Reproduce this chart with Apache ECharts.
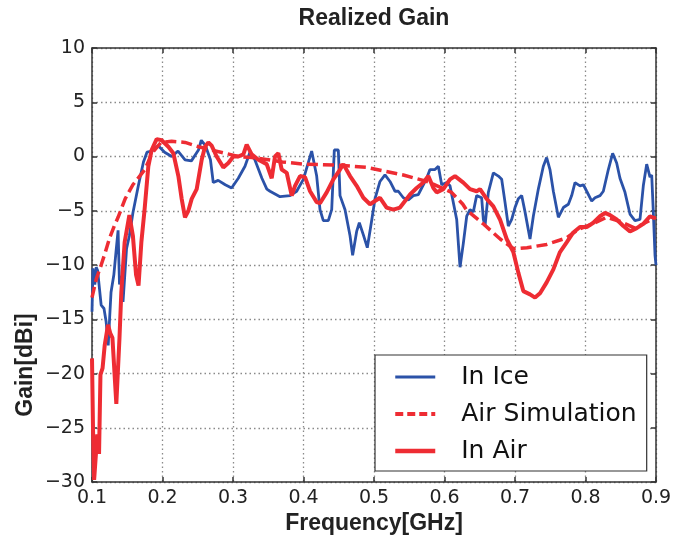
<!DOCTYPE html>
<html>
<head>
<meta charset="utf-8">
<script src="https://cdn.jsdelivr.net/npm/echarts@6/dist/echarts.min.js"></script>
<style>
  html, body { margin: 0; padding: 0; background: #fff; }
  #chart { width: 685px; height: 540px; }
</style>
</head>
<body>
<div id="chart"></div>
<script>
	/* In Ice (blue) */
	var iceFreq = [0.100,0.1014,0.104,0.106,0.108,0.110,0.113,0.117,0.120,0.123,0.125,0.127,0.131,0.134,0.137,0.139,0.141,0.144,0.149,0.153,0.158,0.1657,0.173,0.178,0.185,0.194,0.203,0.213,0.222,0.232,0.241,0.251,0.255,0.261,0.268,0.272,0.279,0.289,0.298,0.3075,0.317,0.324,0.331,0.341,0.348,0.3525,0.3667,0.381,0.3903,0.3998,0.4116,0.4187,0.4234,0.4281,0.4352,0.440,0.4437,0.4494,0.4518,0.4589,0.466,0.4697,0.4754,0.4792,0.4848,0.4905,0.4967,0.5014,0.5085,0.5156,0.5227,0.5298,0.5345,0.5416,0.5487,0.5558,0.5629,0.570,0.5747,0.5794,0.5865,0.5913,0.596,0.6031,0.6078,0.6173,0.622,0.6267,0.6315,0.6362,0.6409,0.6456,0.6527,0.6551,0.6575,0.6622,0.6693,0.6764,0.6811,0.6858,0.6905,0.6953,0.700,0.7047,0.7095,0.7142,0.7213,0.726,0.7331,0.7402,0.7449,0.7496,0.7544,0.7615,0.7686,0.7757,0.7804,0.7851,0.7922,0.797,0.8017,0.8088,0.8135,0.8206,0.8253,0.8324,0.8385,0.8442,0.8489,0.856,0.8631,0.8702,0.8773,0.882,0.8868,0.8915,0.8939,0.8962,0.8986,0.900];
	var iceGain = [-14.3,-10.3,-11.8,-10.2,-10.5,-11.8,-13.7,-14.0,-15.2,-17.4,-14.9,-12.5,-10.9,-8.8,-6.8,-11.8,-11.0,-13.4,-8.5,-7.3,-5.2,-2.7,-0.5,0.4,0.5,1.0,0.4,0.0,0.5,-0.3,-0.4,0.6,1.5,1.0,-0.3,-2.4,-2.2,-2.6,-2.9,-2.0,-0.9,0.4,-0.3,-2.0,-3.0,-3.2,-3.7,-3.6,-3.2,-2.1,0.5,-1.8,-4.9,-5.9,-5.9,-4.9,0.6,0.6,-3.6,-4.9,-7.3,-9.1,-6.9,-6.1,-7.2,-8.4,-5.9,-3.9,-2.3,-1.7,-2.3,-3.2,-3.2,-3.8,-4.0,-3.6,-3.5,-2.6,-2.0,-1.2,-1.2,-0.9,-2.6,-2.4,-2.7,-5.8,-10.2,-8.0,-5.5,-4.9,-5.1,-3.6,-3.8,-5.8,-6.4,-3.3,-1.5,-1.8,-2.1,-4.2,-6.4,-5.8,-4.7,-3.9,-3.6,-5.1,-7.6,-5.5,-3.0,-0.9,-0.1,-1.2,-3.2,-5.6,-4.7,-4.4,-3.6,-2.4,-2.7,-2.6,-3.2,-4.1,-3.8,-3.6,-3.2,-1.2,0.3,-0.6,-2.0,-3.3,-5.3,-5.9,-5.8,-2.7,-0.7,-1.9,-1.7,-5.1,-9.1,-10.0];

	/* Air Simulation (red dashed) */
	var simFreq = [0.100,0.106,0.113,0.119,0.125,0.131,0.137,0.147,0.158,0.175,0.185,0.198,0.213,0.232,0.251,0.270,0.289,0.3075,0.327,0.350,0.370,0.400,0.450,0.490,0.5416,0.575,0.600,0.610,0.626,0.631,0.655,0.679,0.698,0.717,0.745,0.773,0.790,0.810,0.830,0.850,0.870,0.900];
	var simGain = [-13.0,-11.3,-10.0,-8.8,-7.5,-6.5,-5.6,-3.9,-2.6,-1.2,0.3,1.3,1.4,1.3,0.9,0.6,0.3,0.0,-0.1,-0.3,-0.5,-0.7,-0.8,-1.0,-1.7,-2.3,-3.0,-3.3,-4.4,-4.9,-6.2,-7.6,-8.5,-8.4,-8.1,-7.5,-6.7,-6.2,-5.6,-6.0,-6.6,-5.6];

	/* In Air (red solid) */
	var airFreq = [0.100,0.1015,0.103,0.1075,0.110,0.112,0.115,0.118,0.1227,0.126,0.129,0.1345,0.139,0.1416,0.1463,0.153,0.158,0.1625,0.166,0.170,0.1747,0.1799,0.1846,0.1917,0.1988,0.2083,0.2154,0.2225,0.2272,0.2319,0.2367,0.2414,0.2485,0.2556,0.2603,0.265,0.2697,0.2768,0.2863,0.2934,0.3005,0.3076,0.3147,0.3194,0.3265,0.336,0.3478,0.3549,0.3596,0.3643,0.3691,0.3762,0.3833,0.388,0.3951,0.4022,0.4093,0.4187,0.4234,0.4329,0.4423,0.4518,0.4565,0.466,0.4754,0.4849,0.4943,0.5014,0.5085,0.5179,0.5274,0.5369,0.544,0.5511,0.5605,0.570,0.5771,0.5842,0.5889,0.5983,0.6078,0.6149,0.6267,0.6362,0.6456,0.6504,0.6598,0.6693,0.6787,0.6882,0.6976,0.7047,0.7118,0.7213,0.7284,0.7355,0.7449,0.7544,0.7638,0.7733,0.7827,0.7922,0.8017,0.8111,0.8206,0.8277,0.8348,0.8442,0.8537,0.8631,0.8726,0.882,0.8915,0.8986];
	var airGain = [-18.6,-25.3,-29.8,-25.6,-27.4,-20.1,-19.5,-17.4,-15.5,-16.3,-16.7,-22.8,-16.7,-12.5,-7.9,-5.4,-7.3,-10.9,-11.9,-7.9,-4.8,-0.9,0.6,1.6,1.5,0.9,0.3,-1.8,-3.9,-5.6,-5.0,-3.9,-3.0,-0.3,0.9,1.3,1.0,0.0,-1.0,-0.6,0.0,0.0,0.2,1.1,0.2,-0.3,-0.7,-2.0,0.0,0.3,-1.2,-1.5,-3.6,-2.7,-1.8,-1.9,-3.2,-4.2,-4.3,-3.3,-2.1,-1.2,-0.7,-1.8,-2.7,-3.8,-4.4,-4.1,-3.8,-4.7,-4.9,-4.7,-4.1,-3.5,-2.9,-2.4,-1.8,-2.9,-3.3,-3.0,-2.1,-1.8,-2.4,-3.0,-3.2,-3.0,-3.9,-4.6,-5.8,-7.6,-8.8,-10.7,-12.4,-12.7,-13.0,-12.6,-11.6,-10.4,-8.8,-7.9,-7.0,-6.5,-6.5,-6.1,-5.5,-5.2,-5.4,-5.8,-6.4,-6.9,-6.6,-6.2,-5.5,-5.7];

	var legendNames = ['In Ice', 'Air Simulation', 'In Air'];

	function zip(xs, ys){
		var out = [];
		for(var i=0;i<xs.length;i++){
			out.push([xs[i], ys[i]]);
		}
		return out;
	}

	var frame = {color:'#333', width:1.5};
	var gridLine = {show:true, lineStyle:{type:[1.5,3], color:'#8a8a8a', width:1.3}};
	var tickFont = {fontFamily:'DejaVu Sans', fontSize:19, color:'#222'};
	var labelFont = {fontFamily:'Liberation Sans', fontWeight:'bold', fontSize:23, color:'#222'};

	var myChart = echarts.init(document.getElementById('chart'));
	var option = {
		backgroundColor: '#fff',
		animation: false,
		title: {
			text: 'Realized Gain',
			left: 374,
			textAlign: 'center',
			top: 7,
			padding: 0,
			textStyle: labelFont
		},
		grid: {left:92, right:29, top:48, bottom:55},
		legend: {
			data: [
				{name: legendNames[0], lineStyle: {width: 3}},
				{name: legendNames[1], lineStyle: {width: 4, type: [8, 4]}},
				{name: legendNames[2], lineStyle: {width: 4.5}}
			],
			orient: 'vertical',
			left: 375,
			top: 355,
			padding: [7, 10, 5, 18],
			itemGap: 7,
			itemWidth: 40,
			itemHeight: 14,
			itemStyle: {opacity: 0},
			backgroundColor: '#fff',
			borderColor: '#333',
			borderWidth: 1.2,
			borderRadius: 0,
			textStyle: {fontFamily:'DejaVu Sans', fontSize:25, color:'#111', lineHeight:30, padding:[0,0,0,21]}
		},
		graphic: [{
			type: 'text',
			x: 26,
			y: 365,
			rotation: Math.PI / 2,
			style: {
				text: 'Gain[dBi]',
				fontFamily: 'Liberation Sans',
				fontWeight: 'bold',
				fontSize: 23,
				fill: '#222',
				align: 'center',
				verticalAlign: 'middle'
			}
		}],
		xAxis: [{
			type: 'value',
			min: 0.1, max: 0.9, interval: 0.1,
			position: 'bottom',
			axisLine: {show:true, onZero:false, lineStyle:frame},
			axisTick: {show:true, inside:true, length:5, lineStyle:frame},
			axisLabel: Object.assign({margin:6, formatter:function(v){ return v.toFixed(1); }}, tickFont),
			splitLine: gridLine,
			name: 'Frequency[GHz]',
			nameLocation: 'middle',
			nameGap: 29,
			nameTextStyle: labelFont
		},{
			type: 'value',
			min: 0.1, max: 0.9, interval: 0.1,
			position: 'top',
			axisLine: {show:true, onZero:false, lineStyle:frame},
			axisTick: {show:true, inside:true, length:5, lineStyle:frame},
			axisLabel: {show:false},
			splitLine: {show:false}
		}],
		yAxis: [{
			type: 'value',
			min: -30, max: 10, interval: 5,
			position: 'left',
			axisLine: {show:true, onZero:false, lineStyle:frame},
			axisTick: {show:true, inside:true, length:5, lineStyle:frame},
			axisLabel: Object.assign({margin:7, formatter:function(v){ return String(v).replace('-', '\u2212'); }}, tickFont),
			splitLine: gridLine
		},{
			type: 'value',
			min: -30, max: 10, interval: 5,
			position: 'right',
			axisLine: {show:true, onZero:false, lineStyle:frame},
			axisTick: {show:true, inside:true, length:5, lineStyle:frame},
			axisLabel: {show:false},
			splitLine: {show:false}
		}],
		series: [{
			name: 'In Ice',
			type: 'line',
			data: zip(iceFreq, iceGain),
			symbol: 'none',
			showSymbol: false,
			lineStyle: {color:'#2b52a8', width:2.8},
			itemStyle: {color:'#2b52a8'},
			z: 2
		},{
			name: 'Air Simulation',
			type: 'line',
			data: zip(simFreq, simGain),
			symbol: 'none',
			showSymbol: false,
			lineStyle: {color:'#ee2c33', width:3.5, type:[11,5]},
			itemStyle: {color:'#ee2c33'},
			z: 3
		},{
			name: 'In Air',
			type: 'line',
			data: zip(airFreq, airGain),
			symbol: 'none',
			showSymbol: false,
			lineStyle: {color:'#ee2c33', width:4},
			itemStyle: {color:'#ee2c33'},
			z: 4
		}]
	};
	myChart.setOption(option);
</script>
</body>
</html>
